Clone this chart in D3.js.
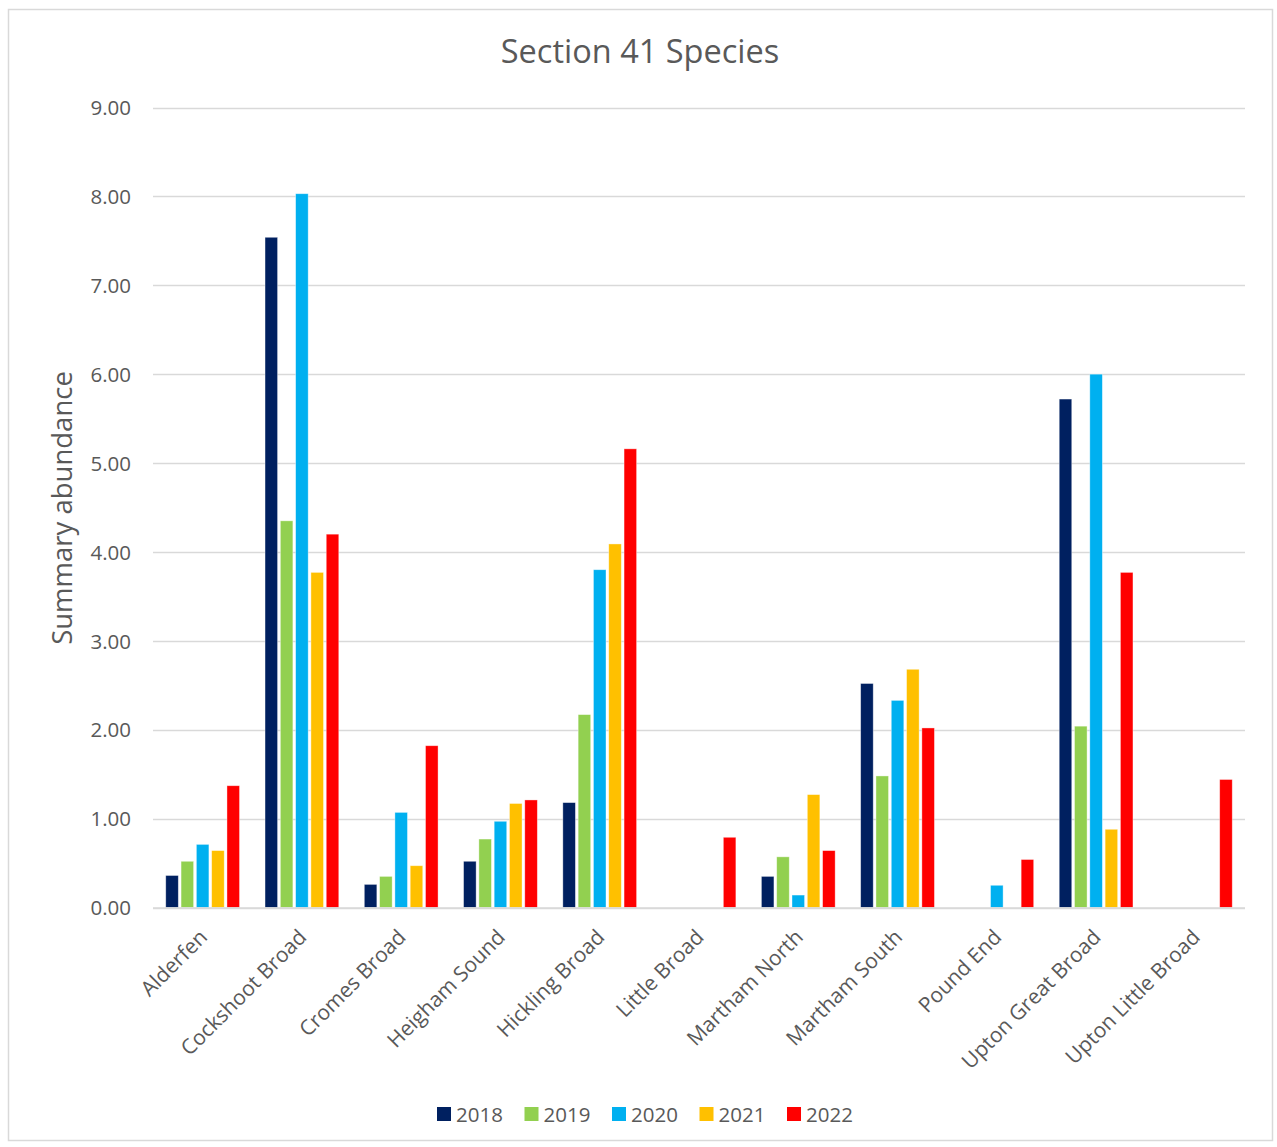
<!DOCTYPE html>
<html>
<head>
<meta charset="utf-8">
<script src="https://cdn.jsdelivr.net/npm/d3@7"></script>
<style>
  html, body { margin: 0; padding: 0; background: #fff; }
  svg { display: block; font-family: "Open Sans", "Noto Sans", sans-serif; }
</style>
</head>
<body>
<svg id="chart" width="1277" height="1147"></svg>
<script>
// Sites surveyed
const sites = [
  "Alderfen", "Cockshoot Broad", "Cromes Broad", "Heigham Sound", "Hickling Broad",
  "Little Broad", "Martham North", "Martham South", "Pound End",
  "Upton Great Broad", "Upton Little Broad"
];

// Survey years (series)
const years = ["2018", "2019", "2020", "2021", "2022"];
const yearColors = ["#002060", "#92D050", "#00B0F0", "#FFC000", "#FF0000"];

// Summary abundance per site, one array per year (null = no record)
const v2018 = [0.36, 7.54, 0.26, 0.52, 1.18, null, 0.35, 2.52, null, 5.72, null];
const v2019 = [0.52, 4.35, 0.35, 0.77, 2.17, null, 0.57, 1.48, null, 2.04, null];
const v2020 = [0.71, 8.03, 1.07, 0.97, 3.80, null, 0.14, 2.33, 0.25, 6.00, null];
const v2021 = [0.64, 3.77, 0.47, 1.17, 4.09, null, 1.27, 2.68, null, 0.88, null];
const v2022 = [1.37, 4.20, 1.82, 1.21, 5.16, 0.79, 0.64, 2.02, 0.54, 3.77, 1.44];
const seriesValues = [v2018, v2019, v2020, v2021, v2022];

// Y-axis ticks
const yTicks = [0, 1, 2, 3, 4, 5, 6, 7, 8, 9];

const svg = d3.select("#chart");
const plot = { left: 153, right: 1245, top: 107.5, bottom: 907.5 };
const textColor = "#595959";
const gridColor = "#D9D9D9";

// Outer frame
svg.append("rect")
  .attr("x", 8.5).attr("y", 9.5)
  .attr("width", 1264).attr("height", 1131)
  .attr("fill", "#fff").attr("stroke", gridColor).attr("stroke-width", 1.5);

// Title
svg.append("text")
  .attr("x", 640).attr("y", 63)
  .attr("text-anchor", "middle")
  .attr("font-size", 32.5)
  .attr("fill", textColor)
  .text("Section 41 Species");

const x0 = d3.scaleBand().domain(sites).range([plot.left, plot.right]).paddingInner(0).paddingOuter(0);
const groupW = x0.bandwidth() * 0.743;
const x1 = d3.scaleBand().domain(years)
  .range([(x0.bandwidth() - groupW) / 2, (x0.bandwidth() + groupW) / 2])
  .paddingInner(0.18).paddingOuter(0);
const y = d3.scaleLinear().domain([0, 9]).range([plot.bottom, plot.top]);

// Gridlines
svg.append("g")
  .selectAll("line")
  .data(yTicks)
  .join("line")
  .attr("x1", plot.left).attr("x2", plot.right)
  .attr("y1", d => Math.round(y(d)) + 0.5).attr("y2", d => Math.round(y(d)) + 0.5)
  .attr("stroke", gridColor).attr("stroke-width", 1.5);

// Y axis tick labels
const yAxis = d3.axisLeft(y).tickValues(yTicks).tickFormat(d3.format(".2f")).tickSize(0).tickPadding(0);
const gy = svg.append("g").attr("transform", `translate(131,0)`).call(yAxis);
gy.select(".domain").remove();
gy.selectAll("text")
  .attr("font-family", "\"Open Sans\", sans-serif")
  .attr("font-size", 20.5)
  .attr("fill", textColor)
  .attr("dy", "0.35em");

// Y axis title
svg.append("text")
  .attr("transform", `translate(72,508) rotate(-90)`)
  .attr("text-anchor", "middle")
  .attr("font-size", 27.5)
  .attr("fill", textColor)
  .text("Summary abundance");

// Bars
const groups = svg.append("g").selectAll("g")
  .data(sites.map((s, i) => ({ site: s, i })))
  .join("g")
  .attr("transform", d => `translate(${x0(d.site)},0)`);

groups.selectAll("rect")
  .data(d => years.map((yr, k) => ({ year: yr, k, value: seriesValues[k][d.i] })).filter(e => e.value != null))
  .join("rect")
  .attr("x", e => x1(e.year))
  .attr("width", x1.bandwidth())
  .attr("y", e => y(e.value))
  .attr("height", e => y(0) - y(e.value))
  .attr("fill", e => yearColors[e.k])
  .attr("stroke", "#ffffff")
  .attr("stroke-opacity", 0.5)
  .attr("stroke-width", 0.75);

// X axis baseline
svg.append("line")
  .attr("x1", plot.left).attr("x2", plot.right)
  .attr("y1", plot.bottom + 0.5).attr("y2", plot.bottom + 0.5)
  .attr("stroke", gridColor).attr("stroke-width", 1.5);

// X axis labels, rotated
const xAxis = d3.axisBottom(x0).tickSize(0).tickPadding(0);
const gx = svg.append("g").attr("transform", `translate(0,${plot.bottom})`).call(xAxis);
gx.select(".domain").remove();
gx.selectAll("text")
  .attr("font-family", "\"Open Sans\", sans-serif")
  .attr("font-size", 21)
  .attr("fill", textColor)
  .attr("text-anchor", "end")
  .attr("y", 0).attr("dy", 0)
  .attr("transform", "translate(6,31) rotate(-45)");

// Legend
const legend = svg.append("g").attr("transform", "translate(437,1107)");
const item = legend.selectAll("g")
  .data(years)
  .join("g")
  .attr("transform", (d, i) => `translate(${i * 87.5},0)`);
item.append("rect")
  .attr("width", 14).attr("height", 14)
  .attr("fill", (d, i) => yearColors[i]);
item.append("text")
  .attr("x", 19).attr("y", 14.5)
  .attr("font-size", 20.5)
  .attr("fill", textColor)
  .text(d => d);
</script>
</body>
</html>
